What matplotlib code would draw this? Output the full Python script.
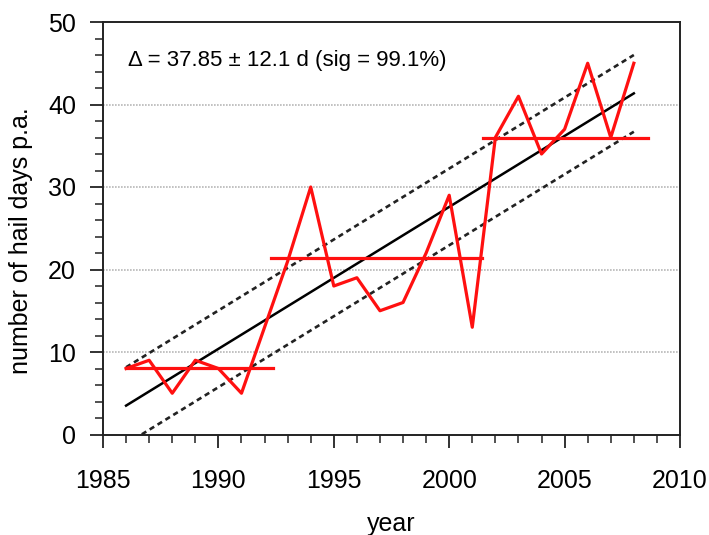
import matplotlib
matplotlib.use("Agg")
from matplotlib import pyplot as plt
from matplotlib.ticker import MultipleLocator

plt.rcParams['font.family'] = ['Liberation Sans', 'DejaVu Sans']

# hail days per year
years = [1986, 1987, 1988, 1989, 1990, 1991, 1992, 1993, 1994, 1995, 1996,
         1997, 1998, 1999, 2000, 2001, 2002, 2003, 2004, 2005, 2006, 2007, 2008]
hail_days = [8, 9, 5, 9, 8, 5, 13, 21, 30, 18, 19,
             15, 16, 22, 29, 13, 36, 41, 34, 37, 45, 36, 45]

# segment means (start year, end year, level)
seg_start = [1986.0, 1992.3, 2001.45]
seg_end = [1992.35, 2001.4, 2008.62]
seg_level = [8.1, 21.4, 36.0]

# linear trend and its band
trend_years = [1986, 2008]
trend_start = 3.5
delta = 37.85
band = 4.65
trend_vals = [trend_start, trend_start + delta]

fig = plt.figure(figsize=(7.09, 5.35), dpi=100)
ax = fig.add_axes([103 / 709, 1 - 434.5 / 535, 577 / 709, 412.5 / 535])

for y in [10, 20, 30, 40]:
    ax.axhline(y, color="#b8b8b8", linestyle=(0, (1, 0.8)), lw=1.2, zorder=1)

ax.plot(trend_years, trend_vals, color="black", lw=1.8, zorder=2)
ax.plot(trend_years, [v + band for v in trend_vals], color="#222222",
        lw=1.9, linestyle=(0, (2, 1.5)), zorder=2)
ax.plot(trend_years, [v - band for v in trend_vals], color="#222222",
        lw=1.9, linestyle=(0, (2, 1.5)), zorder=2)

for s, e, lvl in zip(seg_start, seg_end, seg_level):
    ax.plot([s, e], [lvl, lvl], color="#ff1010", lw=2.3, zorder=3)
ax.plot(years, hail_days, color="#ff1010", lw=2.3, zorder=3)

ax.set_xlim(1985, 2010)
ax.set_ylim(0, 50)
ax.xaxis.set_major_locator(MultipleLocator(5))
ax.xaxis.set_minor_locator(MultipleLocator(1))
ax.yaxis.set_major_locator(MultipleLocator(10))
ax.yaxis.set_minor_locator(MultipleLocator(2))
ax.tick_params(which="major", direction="out", length=9.5, width=1.3,
               labelsize=18, pad=10, color="#222222")
ax.tick_params(which="minor", direction="out", length=5.5, width=1.1,
               color="#222222")
ax.tick_params(axis="x", which="major", pad=15)

for sp in ax.spines.values():
    sp.set_linewidth(1.4)
    sp.set_color("#222222")

ax.set_xlabel("year", fontsize=18, labelpad=14)
ax.set_ylabel("number of hail days p.a.", fontsize=18)
ax.yaxis.set_label_coords(-0.121, 0.47)

ax.text(1986.1, 45.3, "\u0394 = 37.85 \u00b1 12.1 d (sig = 99.1%)",
        fontsize=16, va="center", ha="left")

fig.savefig("out.png", dpi=100)
